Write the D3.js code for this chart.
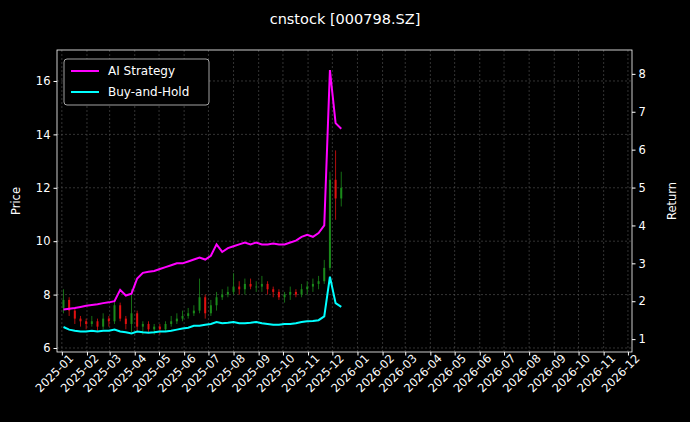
<!DOCTYPE html>
<html>
<head>
<meta charset="utf-8">
<script src="https://cdn.jsdelivr.net/npm/d3@7"></script>
<style>
  body { margin: 0; background: #000; }
  text { font-family: "DejaVu Sans", sans-serif; fill: #fff; }
</style>
</head>
<body>
<svg id="chart" width="690" height="422"></svg>
<script>
// weekly bars, first week ending 2025-01-03
var startDate = new Date(2025, 0, 3);
var open = [7.5,7.8,7.4,7.1, 7.0,6.9,7.0,6.8, 7.1,7.0,7.6,7.1, 6.9,7.3,6.8,6.9, 6.7,6.8,6.7,6.9,7.0,
  7.1,7.2,7.3,7.4, 7.9,7.3,7.6,7.9, 8.0,8.1,8.3,8.2,8.4, 8.3,8.3,8.4,8.2, 8.1,7.9,8.0,8.1,
  8.0,8.2,8.3,8.4, 8.5, 9.0,12.3,11.6];
var close = [7.8,7.4,7.1,7.0, 6.9,7.0,6.8,7.1, 7.0,7.6,7.1,6.9, 7.3,6.8,6.9,6.7, 6.8,6.7,6.9,7.0,7.1,
  7.2,7.3,7.4,7.9, 7.3,7.6,7.9,8.0, 8.1,8.3,8.2,8.4,8.3, 8.3,8.4,8.2,8.1, 7.9,8.0,8.1,8.0,
  8.2,8.3,8.4,8.5, 9.0, 12.3,11.6,12.0];
var high = [8.2,7.9,7.5,7.2, 7.1,7.2,7.1,7.3, 7.2,7.8,7.7,7.2, 8.2,7.4,7.0,7.0, 6.9,6.9,7.0,7.2,7.3,
  7.4,7.5,7.6,8.6, 8.0,7.8,8.1,8.2, 8.3,8.8,8.5,8.6,8.6, 8.5,8.7,8.5,8.3, 8.2,8.1,8.3,8.2,
  8.4,8.5,8.6,8.7, 9.3, 12.6,13.4,12.6];
var low = [7.3,7.2,6.9,6.8, 6.7,6.8,6.6,6.7, 6.8,6.9,7.0,6.7, 6.6,6.6,6.5,6.6, 6.5,6.5,6.6,6.8,6.9,
  7.0,7.1,7.2,7.3, 7.1,7.2,7.4,7.8, 7.9,8.0,8.0,8.0,8.2, 8.1,8.1,8.0,7.9, 7.8,7.7,7.8,7.9,
  7.9,8.0,8.1,8.2, 8.4, 8.9,10.8,11.3];
var strategy = [1.78,1.8,1.82,1.85, 1.88,1.9,1.92,1.95, 1.97,2.0,2.3,2.15, 2.2,2.6,2.75,2.78, 2.8,2.85,2.9,2.95,3.0,
  3.0,3.05,3.1,3.15, 3.1,3.2,3.5,3.3, 3.4,3.45,3.5,3.55,3.5, 3.55,3.5,3.5,3.52, 3.5,3.5,3.55,3.6,
  3.7,3.75,3.7,3.8, 4.0, 8.1,6.7,6.55];
var hold = [1.32,1.25,1.22,1.2, 1.2,1.22,1.2,1.22, 1.22,1.25,1.2,1.18, 1.15,1.2,1.18,1.17, 1.18,1.2,1.2,1.22,1.25,
  1.28,1.3,1.35,1.35, 1.38,1.4,1.45,1.42, 1.43,1.45,1.42,1.42,1.43, 1.45,1.42,1.4,1.38, 1.38,1.4,1.4,1.42,
  1.45,1.47,1.48,1.5, 1.6, 2.65,1.95,1.85];
var priceTicks = [6, 8, 10, 12, 14, 16];
var returnTicks = [1, 2, 3, 4, 5, 6, 7, 8];

(function() {
  var bars = close.map(function(c, i) {
    return { date: d3.timeWeek.offset(startDate, i), o: open[i], h: high[i], l: low[i], c: c,
      s: strategy[i], b: hold[i] };
  });

  var svg = d3.select('#chart');
  var pl = 57, pr = 632, pt = 50, pb = 352;

  var x = d3.scaleTime().domain([new Date(2024, 11, 26), new Date(2026, 11, 6)]).range([pl, pr]);
  var yP = d3.scaleLinear().domain([5.85, 17.16]).range([pb, pt]);
  var yR = d3.scaleLinear().domain([0.66, 8.63]).range([pb, pt]);
  var months = d3.timeMonth.range(new Date(2025, 0, 1), new Date(2027, 0, 1));

  svg.append('rect').attr('width', 690).attr('height', 422).attr('fill', '#000');

  // grid
  var grid = svg.append('g').attr('stroke', '#555').attr('stroke-dasharray', '2,2').attr('stroke-width', 0.6);
  months.forEach(function(m) {
    grid.append('line').attr('x1', x(m)).attr('x2', x(m)).attr('y1', pt).attr('y2', pb);
  });
  priceTicks.forEach(function(t) {
    grid.append('line').attr('x1', pl).attr('x2', pr).attr('y1', yP(t)).attr('y2', yP(t));
  });

  // candles
  var cw = 2;
  var candles = svg.append('g');
  bars.forEach(function(d) {
    var col = d.c >= d.o ? '#1a8a1a' : '#e01010';
    var cx = x(d.date);
    candles.append('line').attr('x1', cx).attr('x2', cx).attr('y1', yP(d.h)).attr('y2', yP(d.l))
      .attr('stroke', col).attr('stroke-width', 0.8);
    candles.append('rect').attr('x', cx - cw / 2).attr('width', cw)
      .attr('y', yP(Math.max(d.o, d.c))).attr('height', Math.max(0.8, Math.abs(yP(d.o) - yP(d.c))))
      .attr('fill', col);
  });

  // return lines
  var lineS = d3.line().x(function(d) { return x(d.date); }).y(function(d) { return yR(d.s); });
  var lineB = d3.line().x(function(d) { return x(d.date); }).y(function(d) { return yR(d.b); });
  svg.append('path').datum(bars).attr('d', lineS).attr('fill', 'none').attr('stroke', '#ff00ff').attr('stroke-width', 2);
  svg.append('path').datum(bars).attr('d', lineB).attr('fill', 'none').attr('stroke', '#00ffff').attr('stroke-width', 2);

  // frame
  svg.append('rect').attr('x', pl).attr('y', pt).attr('width', pr - pl).attr('height', pb - pt)
    .attr('fill', 'none').attr('stroke', '#fff').attr('stroke-width', 0.8);

  // axes
  var axL = svg.append('g').attr('transform', 'translate(' + pl + ',0)')
    .call(d3.axisLeft(yP).tickValues(priceTicks).tickSize(3.5).tickPadding(3));
  var axR = svg.append('g').attr('transform', 'translate(' + pr + ',0)')
    .call(d3.axisRight(yR).tickValues(returnTicks).tickSize(3.5).tickPadding(3));
  var axB = svg.append('g').attr('transform', 'translate(0,' + pb + ')')
    .call(d3.axisBottom(x).tickValues(months).tickFormat(d3.timeFormat('%Y-%m')).tickSize(3.5));
  axB.selectAll('text').attr('text-anchor', 'end').attr('dx', '0.3em').attr('dy', '0.6em')
    .attr('transform', 'rotate(-45)');
  [axL, axR, axB].forEach(function(a) {
    a.select('.domain').remove();
    a.selectAll('line').attr('stroke', '#fff');
    a.selectAll('text').attr('fill', '#fff').style('font-size', '11.5px');
  });

  svg.append('text').attr('x', 345).attr('y', 24).attr('text-anchor', 'middle').style('font-size', '14.5px')
    .text('cnstock [000798.SZ]');
  svg.append('text').attr('transform', 'translate(20,' + (pt + pb) / 2 + ') rotate(-90)')
    .attr('text-anchor', 'middle').style('font-size', '11.5px').text('Price');
  svg.append('text').attr('transform', 'translate(676,' + (pt + pb) / 2 + ') rotate(-90)')
    .attr('text-anchor', 'middle').style('font-size', '11.5px').text('Return');

  // legend
  var lg = svg.append('g').attr('transform', 'translate(64,59)');
  lg.append('rect').attr('width', 145).attr('height', 46).attr('rx', 3).attr('fill', '#000')
    .attr('stroke', '#ccc').attr('stroke-width', 0.8);
  [['AI Strategy', '#ff00ff'], ['Buy-and-Hold', '#00ffff']].forEach(function(e, i) {
    var yy = 12 + i * 21;
    lg.append('line').attr('x1', 7).attr('x2', 35).attr('y1', yy).attr('y2', yy).attr('stroke', e[1]).attr('stroke-width', 2);
    lg.append('text').attr('x', 44).attr('y', yy + 4).style('font-size', '12px').text(e[0]);
  });
})();
</script>
</body>
</html>
